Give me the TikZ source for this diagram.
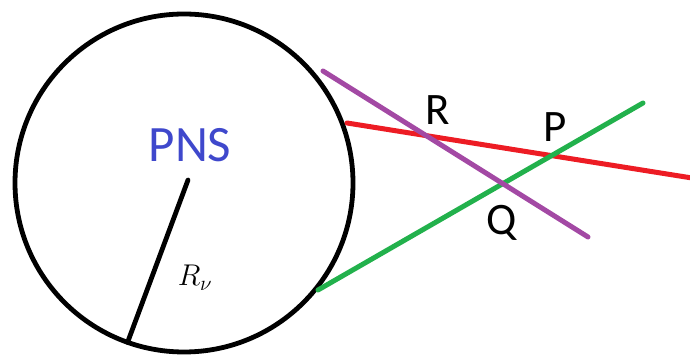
\documentclass[tikz,border=0pt]{standalone}
\usepackage{fix-cm}
\usepackage{fontspec}
\newfontfamily\paintfont{Carlito}
\usepackage{xcolor}
\definecolor{indigo}{RGB}{63, 72, 204}
\definecolor{paintred}{RGB}{237, 28, 36}
\definecolor{paintgreen}{RGB}{34, 177, 76}
\definecolor{paintpurple}{RGB}{163, 73, 164}
\usepackage{tikz}
\usetikzlibrary{positioning,calc}

\begin{document}
\begin{tikzpicture}[
  x=1pt, y=1pt,
  ray/.style={line width=5pt, line cap=round},
  pt/.style={font=\paintfont\fontsize{45}{45}\selectfont, inner sep=0pt}
]
\useasboundingbox (0,0) rectangle (690,358);

% star
\coordinate (c) at (184,175);
\draw[line width=4.8pt] (c) circle[radius=169];
\coordinate (r0) at (188,178);
\coordinate (r1) at ($(c)+(250.5:169)$);
\draw[line width=4.8pt, line cap=round] (r0) -- (r1);
\node[font=\paintfont\fontsize{51}{51}\selectfont, text=indigo, inner sep=0pt] (pns) at (190,213) {PNS};
\node[font=\fontsize{30}{30}\selectfont, inner sep=0pt] (rad) at (195,80) {$R_\nu$};

% rays
\coordinate (pa) at (323,287);
\coordinate (pb) at (588,121);
\coordinate (ra) at (347,235);
\coordinate (rb) at (692,180);
\coordinate (ga) at (318,68);
\coordinate (gb) at (643,255);
\draw[ray, paintred] (ra) -- (rb);
\draw[ray, paintgreen] (ga) -- (gb);
\draw[ray, paintpurple] (pa) -- (pb);

% crossings
\node[pt] (lr) at (438,248) {R};
\node[pt] (lp) at (555,231) {P};
\node[pt] (lq) at (502,135) {Q};
\end{tikzpicture}
\end{document}
